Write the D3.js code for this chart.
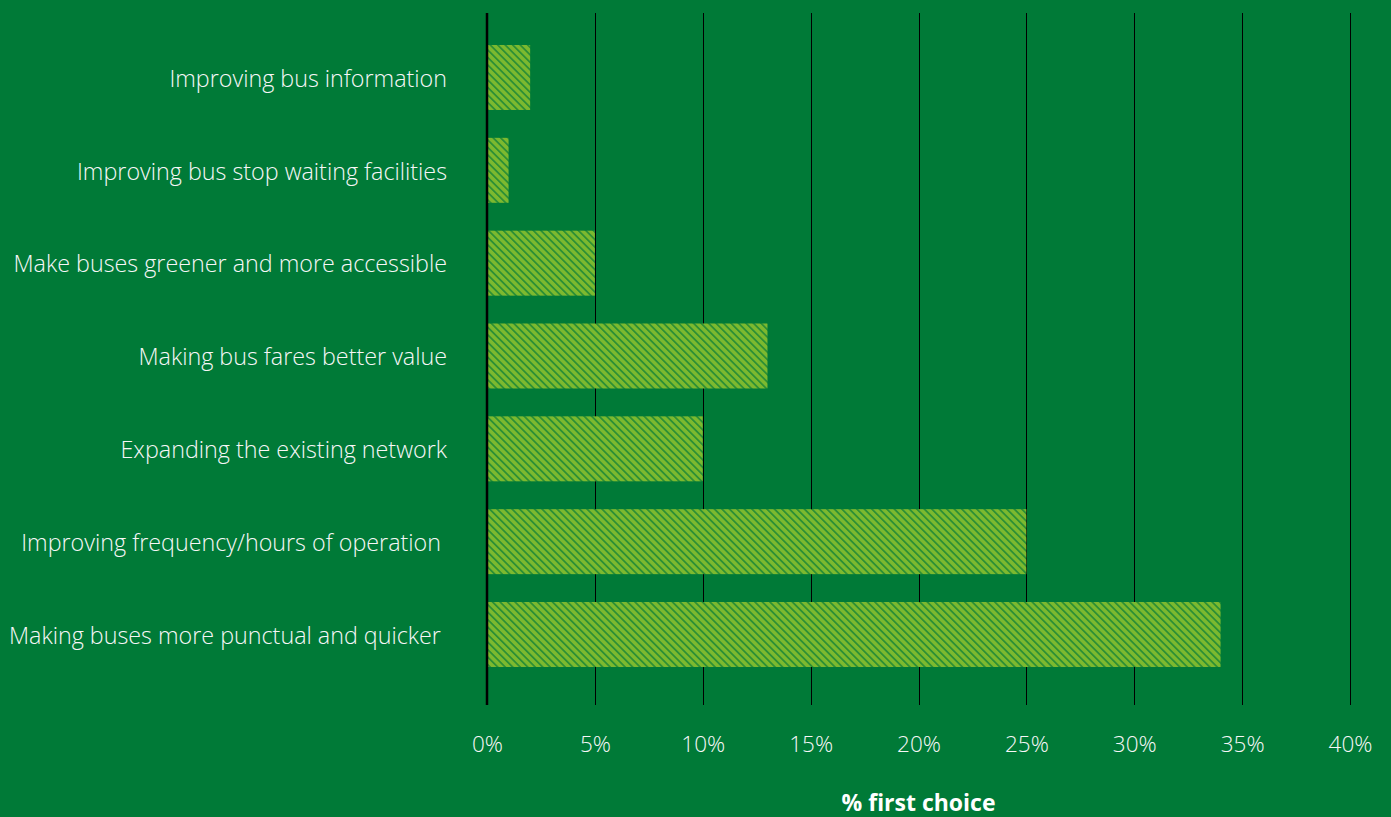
<!DOCTYPE html>
<html>
<head>
<meta charset="utf-8">
<script src="https://cdn.jsdelivr.net/npm/d3@7"></script>
<style>
  html, body { margin: 0; padding: 0; background: #007a37; }
  svg { display: block; }
  text { white-space: pre; }
</style>
</head>
<body>
<svg id="chart" width="1391" height="817"></svg>
<script>
// Survey results: share of respondents naming each improvement as their first choice
const categories = [
  "Improving bus information",
  "Improving bus stop waiting facilities",
  "Make buses greener and more accessible",
  "Making bus fares better value",
  "Expanding the existing network",
  "Improving frequency/hours of operation ",
  "Making buses more punctual and quicker "
];
const firstChoice = [2, 1, 5, 13, 10, 25, 34];
const tickValues = [0, 5, 10, 15, 20, 25, 30, 35, 40];
const axisTitle = "% first choice";

const svg = d3.select("#chart");
const W = 1391, H = 817;
const margin = { top: 13, right: 41, bottom: 112, left: 487 };
const plotW = W - margin.left - margin.right;
const plotH = H - margin.top - margin.bottom;
const FONT = "'Open Sans', Lato, sans-serif";

svg.append("rect").attr("width", W).attr("height", H).attr("fill", "#007a37");

// Diagonal hatch fill for the bars
const defs = svg.append("defs");
const P = 5.3;
const pat = defs.append("pattern")
  .attr("id", "hatch")
  .attr("patternUnits", "userSpaceOnUse")
  .attr("width", P).attr("height", P)
  .attr("patternTransform", "rotate(-45)");
pat.append("rect").attr("width", P).attr("height", P).attr("fill", "#7cb92f");
pat.append("rect").attr("x", 0).attr("y", 0).attr("width", 1.8).attr("height", P).attr("fill", "#2d9035");

const x = d3.scaleLinear().domain([0, 40]).range([0, plotW]);
const y = d3.scaleBand().domain(categories).range([0, plotH])
  .paddingInner(0.3).paddingOuter(0.377).align(0.457);

const g = svg.append("g").attr("transform", `translate(${margin.left},${margin.top})`);

// Vertical gridlines
g.append("g").selectAll("line")
  .data(tickValues.slice(1))
  .join("line")
  .attr("x1", d => Math.round(x(d)) + 0.5).attr("x2", d => Math.round(x(d)) + 0.5)
  .attr("y1", 0).attr("y2", plotH)
  .attr("stroke", "#000").attr("stroke-width", 1);

// Bars
g.append("g").selectAll("rect")
  .data(categories.map((c, i) => ({ c, v: firstChoice[i] })))
  .join("rect")
  .attr("x", x(0))
  .attr("y", d => y(d.c))
  .attr("width", d => x(d.v) - x(0))
  .attr("height", y.bandwidth())
  .attr("fill", "url(#hatch)");

// Category axis line
g.append("line")
  .attr("x1", x(0)).attr("x2", x(0))
  .attr("y1", 0).attr("y2", plotH)
  .attr("stroke", "#000").attr("stroke-width", 2.5);

// Category labels
const yAxis = d3.axisLeft(y).tickSize(0).tickPadding(40);
const yg = g.append("g").call(yAxis);
yg.select(".domain").remove();
yg.selectAll("text")
  .attr("fill", "#f7f7f7")
  .attr("dy", "0.4em")
  .style("font-family", FONT)
  .style("font-weight", 300)
  .style("font-size", "23.3px");

// Value axis labels
const xAxis = d3.axisBottom(x).tickValues(tickValues).tickSize(0).tickPadding(31)
  .tickFormat(d => d + "%");
const xg = g.append("g").attr("transform", `translate(0,${plotH})`).call(xAxis);
xg.select(".domain").remove();
xg.selectAll("text")
  .attr("fill", "#f7f7f7")
  .style("font-family", FONT)
  .style("font-weight", 300)
  .style("font-size", "22.5px");

// Axis title
svg.append("text")
  .attr("x", margin.left + plotW / 2)
  .attr("y", 811)
  .attr("text-anchor", "middle")
  .attr("fill", "#ffffff")
  .style("font-family", FONT)
  .style("font-weight", 700)
  .style("font-size", "23px")
  .text(axisTitle);
</script>
</body>
</html>
